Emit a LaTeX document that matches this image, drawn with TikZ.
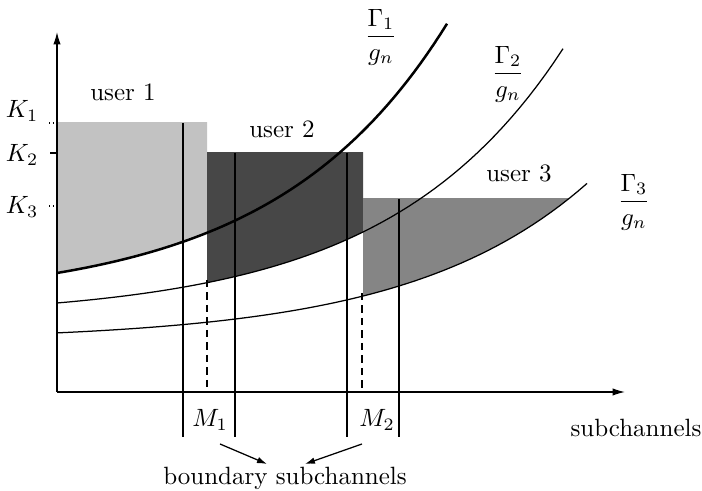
\documentclass[tikz,border=0pt]{standalone}
\usepackage{amsmath}
\usetikzlibrary{arrows.meta}

\tikzset{
  gammaone/.style={insert path={plot[domain=57:447, samples=60] (\x, {302-29*exp(0.0058*(\x-57))})}},
  gammatwo/.style={insert path={plot[domain=57:563, samples=60] (\x, {318-15*exp(0.0057*(\x-57))})}},
  gammathree/.style={insert path={plot[domain=57:587, samples=60] (\x, {341-8.1*exp(0.0056*(\x-57))})}},
}

\begin{document}
\begin{tikzpicture}[x=0.4pt, y=-0.4pt,
    axis/.style={-{Latex[length=5pt, width=3pt]}, line width=0.5pt},
    pointer/.style={-{Latex[length=4pt, width=2.6pt]}, line width=0.5pt},
    curve/.style={line width=0.5pt},
    bound/.style={line width=0.45pt},
    split/.style={line width=0.45pt, dashed, dash pattern=on 3pt off 2pt},
    tick/.style={line width=0.5pt},
    label/.style={inner sep=1pt},
    ]
    \useasboundingbox (0,0) rectangle (702,491);

    % regions of the users
    \begin{scope}
        \clip (57,123) rectangle (207,392);
        \fill[black!24] [gammaone] |- (0,0) -- cycle;
    \end{scope}
    \begin{scope}
        \clip (207,153) rectangle (363,392);
        \fill[black!72] [gammatwo] |- (0,0) -- cycle;
    \end{scope}
    \begin{scope}
        \clip (363,199) rectangle (620,392);
        \fill[black!48] [gammathree] |- (0,0) -- cycle;
    \end{scope}

    % curves
    \draw[curve, line width=1pt] [gammaone];
    \draw[curve] [gammatwo];
    \draw[curve] [gammathree];

    % boundary subchannels
    \draw[bound] (183,123) -- (183,437);
    \draw[bound] (235,153) -- (235,437);
    \draw[bound] (347,153) -- (347,437);
    \draw[bound] (399,199) -- (399,437);
    \draw[split] (207,280) -- (207,392);
    \draw[split] (362,293) -- (362,392);

    % axes
    \coordinate (origin) at (57,392);
    \coordinate (ytip) at (57,32);
    \coordinate (xtip) at (625,392);
    \draw[axis] (origin) -- (ytip);
    \draw[axis] (origin) -- (xtip);

    % levels
    \draw[tick, densely dotted] (49,123) -- (57,123);
    \draw[tick] (50,153) -- (57,153);
    \draw[tick, densely dotted] (49,206) -- (57,206);
    \node[label] (k1) at (22,111) {$K_1$};
    \node[label] (k2) at (22,155) {$K_2$};
    \node[label] (k3) at (22,207) {$K_3$};

    % users
    \node[label] (u1) at (123,92) {user 1};
    \node[label] (u2) at (282,129) {user 2};
    \node[label] (u3) at (519,173) {user 3};

    % thresholds
    \node[label] (g1) at (381,37) {$\dfrac{\Gamma_1}{g_n}$};
    \node[label] (g2) at (508,74) {$\dfrac{\Gamma_2}{g_n}$};
    \node[label] (g3) at (634,202) {$\dfrac{\Gamma_3}{g_n}$};

    % axis labels
    \node[label] (m1) at (210,420) {$M_1$};
    \node[label] (m2) at (377,420) {$M_2$};
    \node[label] (sub) at (636,428) {subchannels};
    \node[label] (bnd) at (285,478) {boundary subchannels};

    \coordinate (p1) at (220,444);
    \coordinate (q1) at (267,464);
    \coordinate (p2) at (362,444);
    \coordinate (q2) at (305,464);
    \draw[pointer] (p1) -- (q1);
    \draw[pointer] (p2) -- (q2);
\end{tikzpicture}
\end{document}
